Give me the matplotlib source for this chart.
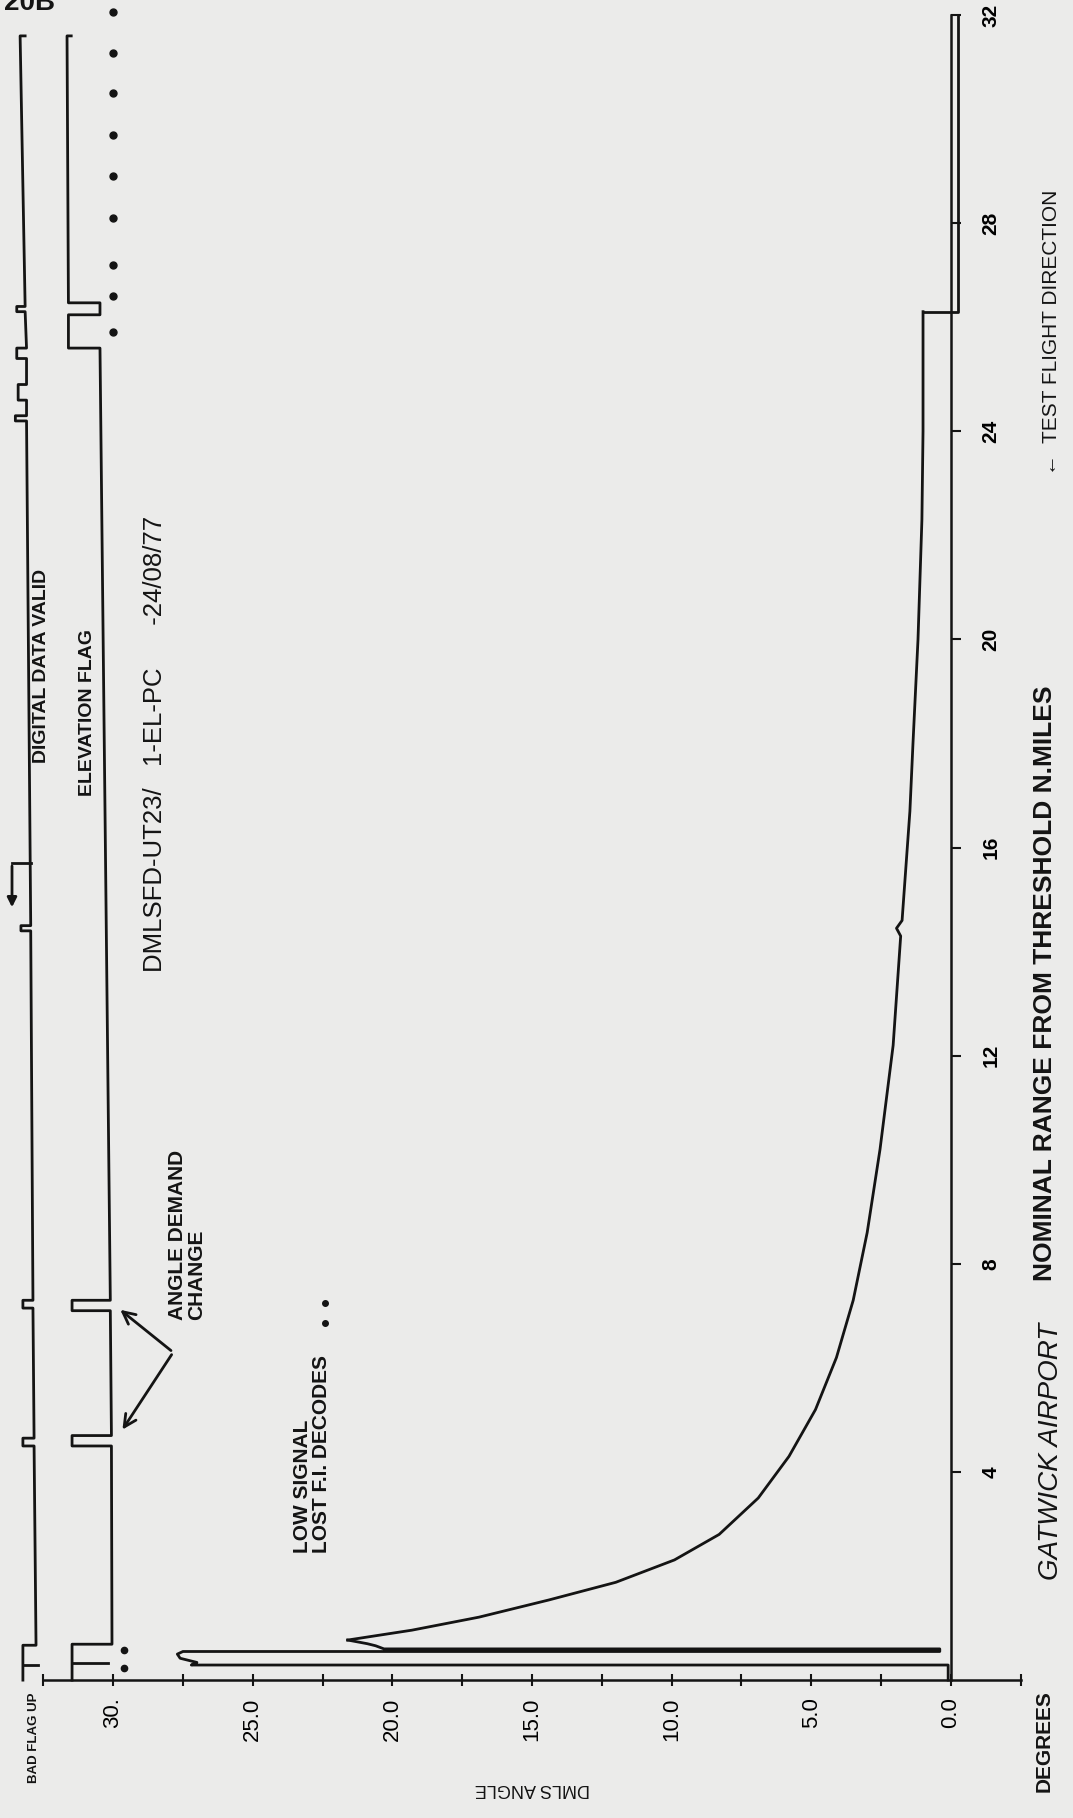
import numpy as np
import matplotlib
matplotlib.use("Agg")
import matplotlib.pyplot as plt

plt.rcParams['font.family'] = ['Liberation Sans', 'DejaVu Sans']

# ---- data (range in n.miles, DMLS angle in degrees) ----
# approach spike near threshold
spike_range = [0.0, 0.29, 0.29, 0.34, 0.42, 0.50, 0.55, 0.55, 0.60, 0.60, 0.66, 0.70, 0.77]
spike_angle = [0.1, 0.1, 27.2, 27.0, 27.6, 27.7, 27.5, 0.4, 0.4, 20.3, 20.6, 20.9, 21.6]
# main elevation curve
curve_range = [0.96, 1.21, 1.54, 1.88, 2.31, 2.8, 3.5, 4.3, 5.2, 6.2, 7.3, 8.6, 10.2,
               12.2, 14.3, 14.45, 14.6, 16.7, 18.0, 20.0, 22.3, 24.0, 26.3]
curve_angle = [19.3, 16.9, 14.4, 12.0, 9.9, 8.3, 6.9, 5.8, 4.85, 4.1, 3.5, 3.0, 2.54,
               2.07, 1.8, 1.95, 1.75, 1.47, 1.36, 1.18, 1.04, 1.0, 1.0]
tail_range = [26.3, 26.3, 32.0]
tail_angle = [1.0, -0.25, -0.25]

# digital data valid / bad flag trace
bad_range = [31.6, 31.6, 26.4, 26.4, 26.3, 26.3, 25.6, 25.6, 25.4, 25.4, 24.9, 24.9, 24.6, 24.6,
             24.3, 24.3, 24.2, 24.2, 14.5, 14.5, 14.4, 14.4, 7.3, 7.3, 7.15, 7.15,
             4.65, 4.65, 4.5, 4.5, 0.67, 0.67, 0.0]
bad_angle = [33.15, 33.33, 33.15, 33.45, 33.45, 33.15, 33.1, 33.45, 33.45, 33.1, 33.1, 33.4, 33.4, 33.1,
             33.1, 33.5, 33.5, 33.1, 32.95, 33.3, 33.3, 32.95, 32.87, 33.23, 33.23, 32.87,
             32.83, 33.23, 33.23, 32.83, 32.76, 33.23, 33.23]
# test direction arrow beside the valid trace
ddv_arrow_range = [15.7, 14.8]
ddv_arrow_angle = [33.62, 33.62]
# elevation flag trace
elev_range = [31.6, 31.6, 26.47, 26.47, 26.24, 26.24, 25.6, 25.6, 7.3, 7.3, 7.1, 7.1,
              4.7, 4.7, 4.5, 4.5, 0.69, 0.69, 0.0]
elev_angle = [31.5, 31.65, 31.6, 30.47, 30.47, 31.6, 31.6, 30.47, 30.1, 31.47, 31.47, 30.1,
              30.06, 31.47, 31.47, 30.06, 30.04, 31.47, 31.47]

# lost decode markers
dot_range = [32.06, 31.27, 30.5, 29.7, 28.9, 28.1, 27.2, 26.6, 25.9]
dot_angle = [30.0] * len(dot_range)
low_dot_range = [0.58, 0.23]
low_dot_angle = [29.6, 29.6]

range_ticks = [4, 8, 12, 16, 20, 24, 28, 32]
angle_ticks = np.arange(-2.5, 32.6, 2.5)
angle_labels = {0: "0.0", 5: "5.0", 10: "10.0", 15: "15.0", 20: "20.0", 25: "25.0", 30: "30."}

ink = '#141414'
paper = '#ebebea'

fig = plt.figure(figsize=(10.73, 18.18), dpi=100, facecolor=paper)
ax = fig.add_axes([0, 0, 1, 1])
ax.set_facecolor(paper)
ax.set_xlim(34.05, -4.37)
ax.set_ylim(-2.65, 32.29)

for s in ['top', 'left']:
    ax.spines[s].set_visible(False)
ax.spines['bottom'].set_position(('data', 0))
ax.spines['bottom'].set_bounds(-2.5, 32.5)
ax.spines['right'].set_position(('data', 0))
ax.spines['right'].set_bounds(0, 32)
for s in ['bottom', 'right']:
    ax.spines[s].set_linewidth(1.8)
    ax.spines[s].set_color(ink)

ax.yaxis.tick_right()
ax.set_yticks(range_ticks)
ax.set_yticklabels([str(t) for t in range_ticks])
ax.tick_params(axis='y', direction='out', length=7, width=1.5, color=ink,
               pad=15, labelsize=15, labelrotation=90)
for lab in ax.get_yticklabels():
    lab.set_fontweight('bold')
    lab.set_va('center')

ax.set_xticks(angle_ticks)
ax.set_xticklabels([angle_labels.get(int(t), "") if t == int(t) else "" for t in angle_ticks])
ax.tick_params(axis='x', direction='inout', length=9, width=1.5, color=ink,
               pad=8, labelsize=16, labelrotation=90)

lw = 2.0
ax.plot(spike_angle, spike_range, color=ink, lw=lw)
ax.plot([spike_angle[-1]] + curve_angle, [spike_range[-1]] + curve_range, color=ink, lw=lw)
ax.plot([curve_angle[-1]] + tail_angle, [curve_range[-1]] + tail_range, color=ink, lw=lw)
ax.plot(bad_angle, bad_range, color=ink, lw=lw)
ax.plot([33.23, 32.7], [0.29, 0.29], color=ink, lw=lw)
ax.annotate("", xy=(ddv_arrow_angle[1], ddv_arrow_range[1]),
            xytext=(ddv_arrow_angle[0], ddv_arrow_range[0]),
            arrowprops=dict(arrowstyle='-|>', color=ink, lw=2, mutation_scale=14))
ax.plot([ddv_arrow_angle[0], 32.95], [ddv_arrow_range[0], ddv_arrow_range[0]], color=ink, lw=lw)
ax.plot(elev_angle, elev_range, color=ink, lw=lw)
ax.plot([31.47, 30.2], [0.33, 0.33], color=ink, lw=lw)
ax.plot(dot_angle, dot_range, 'o', color=ink, ms=5)
ax.plot(low_dot_angle, low_dot_range, 'o', color=ink, ms=4.5)

# annotations
ax.text(22.88, 2.44, "LOW SIGNAL\nLOST F.I. DECODES", rotation=90, ha='center', va='bottom',
        multialignment='left', linespacing=1.0, fontsize=15, fontweight='bold', color=ink)
ax.plot([22.4, 22.4], [7.25, 6.86], 'o', color=ink, ms=4)
ax.text(27.35, 6.92, "ANGLE DEMAND\nCHANGE", rotation=90, ha='center', va='bottom',
        multialignment='left', linespacing=1.0, fontsize=15, fontweight='bold', color=ink)
for tgt in [(29.82, 7.15), (29.72, 4.77)]:
    ax.annotate("", xy=tgt, xytext=(27.85, 6.30),
                arrowprops=dict(arrowstyle='->', color=ink, lw=2, mutation_scale=22))
ax.text(32.55, 19.5, "DIGITAL DATA VALID", rotation=90, ha='center', va='center',
        fontsize=14, fontweight='bold', color=ink)
ax.text(30.9, 18.6, "ELEVATION FLAG", rotation=90, ha='center', va='center',
        fontsize=14, fontweight='bold', color=ink)
ax.text(28.5, 18.0, "DMLSFD-UT23/   1-EL-PC      -24/08/77", rotation=90, ha='center', va='center',
        fontsize=18.5, color=ink)
ax.text(-3.35, 13.4, "NOMINAL RANGE FROM THRESHOLD N.MILES", rotation=90, ha='center', va='center',
        fontsize=19, fontweight='bold', color=ink)
ax.text(-3.6, 4.4, "GATWICK AIRPORT", rotation=90, ha='center', va='center',
        fontsize=20, style='italic', color=ink)
ax.text(-3.6, 25.9, "\u2190  TEST FLIGHT DIRECTION", rotation=90, ha='center', va='center',
        fontsize=15, color=ink)
ax.text(-3.35, -0.2, "DEGREES", rotation=90, ha='center', va='top',
        fontsize=15, fontweight='bold', color=ink)
ax.text(15.0, -2.08, "DMLS ANGLE", rotation=180, ha='center', va='center',
        fontsize=13, color=ink)
ax.text(32.83, -1.98, "BAD FLAG UP", rotation=90, ha='center', va='bottom',
        fontsize=9.5, fontweight='bold', color=ink)
fig.text(0.004, 0.9985, "20B", ha='left', va='center', fontsize=20, fontweight='bold', color=ink)

fig.savefig("out.png", dpi=100, facecolor=paper)
